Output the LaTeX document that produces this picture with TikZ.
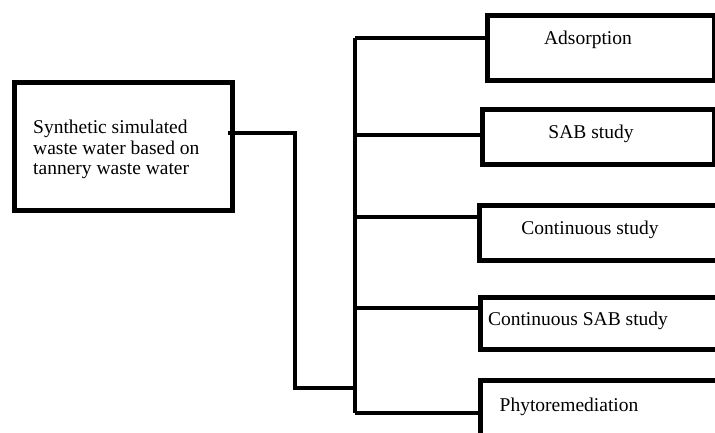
\documentclass[tikz,border=0pt]{standalone}
\usepackage{fontspec}
\setmainfont{Liberation Serif}
\usetikzlibrary{calc}
\begin{document}
\begin{tikzpicture}[x=1pt,y=-1pt,
  box/.style={draw=black,line width=5pt,rectangle,anchor=north west,inner sep=0pt},
  lbl/.style={font=\fontsize{19.5}{20.5}\selectfont,inner sep=0pt},
  link/.style={draw=black,line width=4.2pt}]
\useasboundingbox (0,0) rectangle (715,433);
\clip (0,0) rectangle (715,433);
% source box
\node[box,minimum width=218pt,minimum height=128pt] (src) at (12,80) {};
\node[lbl,anchor=north west,align=left] (srct) at (33,120) {Synthetic simulated\\waste water based on\\tannery waste water};
% target boxes
\node[box,minimum width=227pt,minimum height=65pt] (ad) at (485,13) {};
\node[box,minimum width=232pt,minimum height=55pt] (sab) at (480,107) {};
\node[box,minimum width=260pt,minimum height=55pt] (cs) at (477,203) {};
\node[box,minimum width=260pt,minimum height=52pt] (csab) at (478,295) {};
\node[box,minimum width=260pt,minimum height=80pt] (ph) at (478,378) {};
\node[lbl] (adt) at (588,40) {Adsorption};
\node[lbl] (sabt) at (591,134) {SAB study};
\node[lbl] (cst) at (590,230) {Continuous study};
\node[lbl] (csabt) at (578,321) {Continuous SAB study};
\node[lbl] (pht) at (569,407) {Phytoremediation};
% connector junctions
\coordinate (s1) at (228,133);
\coordinate (bend) at (295,133);
\coordinate (low) at (295,388);
\coordinate (t0) at (355,38);
\coordinate (t1) at (355,135);
\coordinate (t2) at (355,217);
\coordinate (t3) at (355,308);
\coordinate (tj) at (355,388);
\coordinate (t4) at (355,413);
\draw[link] (s1) -- (bend) -- (low) -- (tj);
\draw[link] (t0) -- (t4);
\draw[link] (t0) -- (t0 -| ad.west);
\draw[link] (t1) -- (t1 -| sab.west);
\draw[link] (t2) -- (t2 -| cs.west);
\draw[link] (t3) -- (t3 -| csab.west);
\draw[link] (t4) -- (t4 -| ph.west);
\end{tikzpicture}
\end{document}
